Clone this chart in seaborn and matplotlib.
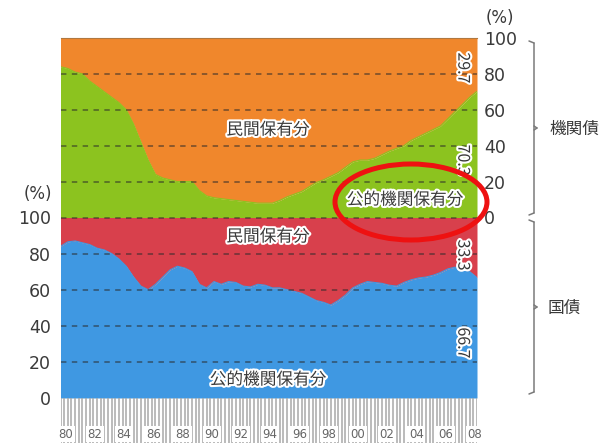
import numpy as np
import pandas as pd
import matplotlib
matplotlib.use("Agg")
import matplotlib.pyplot as plt
import matplotlib.patheffects as pe
from matplotlib.patches import Ellipse
import seaborn as sns

# ---------------- data (half-yearly) ----------------
periods = np.arange(1980.0, 2008.51, 0.5)

# 機関債: 公的機関保有分 (%)
agency_public = [84, 83, 81, 80, 76, 73, 70, 67, 64, 60,
                 52, 42, 32, 24, 22, 21, 20, 20, 20, 15,
                 12, 11, 10.5, 10, 9.5, 9, 8.5, 8, 8, 8,
                 9.5, 11.5, 13, 14.5, 17, 19.5, 21, 23, 25, 28,
                 31, 32, 32, 33, 35, 37, 38.5, 40, 43, 45,
                 47, 49, 51, 55, 59, 63, 67, 70.3]

# 国債: 公的機関保有分 (%)
jgb_public = [84, 86.5, 87, 86, 85, 83, 82, 80, 77, 73,
              67, 62, 60, 63, 67, 71, 73, 72, 70, 63,
              61, 64.5, 63, 64.5, 64, 62, 61.5, 63, 62.5, 61,
              61, 60, 59, 58, 56, 54, 53, 51.5, 54, 57,
              61, 63, 64.5, 64, 63.5, 62.5, 62, 64, 65.5, 66.5,
              67, 68, 69.5, 71.5, 72.5, 71.5, 70, 66.7]

year_labels = ["80", "82", "84", "86", "88", "90", "92", "94",
               "96", "98", "00", "02", "04", "06", "08"]
label_years = list(range(1980, 2009, 2))
yticks = [0, 20, 40, 60, 80, 100]

df = pd.DataFrame({"period": periods,
                   "agency_public": agency_public,
                   "jgb_public": jgb_public})

# ---------------- style ----------------
sns.set_theme(style="white")
CJK = ["Noto Sans CJK JP", "DejaVu Sans"]
plt.rcParams["font.family"] = ["DejaVu Sans", "Noto Sans CJK JP"]

ORANGE = "#f0872c"
GREEN = "#8cc31f"
RED = "#d8404c"
BLUE = "#3f98e2"
TXT = "#3a3a3a"

W, H = 612, 443
fig = plt.figure(figsize=(W / 100, H / 100), dpi=100)

def fx(px):
    return px / W

def fy(py):
    return 1 - py / H

L, R = 60.5, 477
ax_top = fig.add_axes([fx(L), fy(217.5), fx(R - L), (217.5 - 38) / H])
ax_bot = fig.add_axes([fx(L), fy(398), fx(R - L), (398 - 217.5) / H])
ax_strip = fig.add_axes([fx(L), 0, fx(R - L), (H - 398) / H])

xmin, xmax = periods[0], periods[-1]

def panel(ax, lower, lower_c, upper_c):
    ax.fill_between(df["period"], 0, df[lower], color=lower_c, lw=0)
    ax.fill_between(df["period"], df[lower], 100, color=upper_c, lw=0)
    sns.lineplot(data=df, x="period", y=lower, ax=ax, color=lower_c, lw=0.8)
    ax.set_xlim(xmin, xmax)
    ax.set_ylim(0, 100)
    for v in [20, 40, 60, 80]:
        ax.axhline(v, color="#2a2a2a", alpha=0.55, lw=1.3,
                   linestyle=(0, (3, 3)), zorder=3)
    for s in ax.spines.values():
        s.set_visible(False)
    ax.set_xticks([])
    ax.set_xlabel("")
    ax.set_ylabel("")

panel(ax_top, "agency_public", GREEN, ORANGE)
panel(ax_bot, "jgb_public", BLUE, RED)
ax_bot.axhline(100, color="#2a2a2a", alpha=0.55, lw=1.3,
               linestyle=(0, (3, 3)), zorder=3, clip_on=False)

# y ticks
ax_top.yaxis.tick_right()
ax_top.set_yticks(yticks)
ax_top.set_yticklabels([str(v) for v in yticks])
ax_top.tick_params(axis="y", length=0, pad=5, labelsize=12.5, colors=TXT)
ax_bot.set_yticks(yticks)
ax_bot.set_yticklabels([str(v) for v in yticks])
ax_bot.tick_params(axis="y", length=0, pad=7, labelsize=12.5, colors=TXT)
ax_top.spines["top"].set_visible(True)
ax_top.spines["top"].set_color("#b07840")
ax_top.spines["top"].set_linewidth(0.8)

fig.text(fx(500), fy(18), "(%)", ha="center", va="center", fontsize=12, color=TXT)
fig.text(fx(38), fy(194), "(%)", ha="center", va="center", fontsize=12, color=TXT)

# in-chart labels
halo = [pe.withStroke(linewidth=3, foreground="white")]
def lab(ax, x, y, s, rot=0, size=12):
    ax.text(x, y, s, transform=ax.transAxes, ha="center", va="center",
            fontsize=size, color=TXT, rotation=rot, family=CJK,
            path_effects=halo, zorder=5)

lab(ax_top, 0.498, 0.487, "民間保有分")
lab(ax_top, 0.827, 0.097, "公的機関保有分")
lab(ax_top, 0.966, 0.833, "29.7", rot=-90, size=11.5)
lab(ax_top, 0.966, 0.32, "70.3", rot=-90, size=11.5)
lab(ax_bot, 0.498, 0.892, "民間保有分")
lab(ax_bot, 0.498, 0.10, "公的機関保有分")
lab(ax_bot, 0.966, 0.792, "33.3", rot=-90, size=11.5)
lab(ax_bot, 0.966, 0.305, "66.7", rot=-90, size=11.5)

# time strip with quarterly ticks
ax_strip.set_xlim(xmin, xmax)
ax_strip.set_ylim(0, 1)
ax_strip.axis("off")
quarters = np.arange(1980.0, 2008.51, 0.25)
ax_strip.vlines(quarters, 0.0, 1.0, color="#a8a8a8", lw=1.1)
for yr, s in zip(label_years, year_labels):
    ax_strip.text(yr + 0.35, 0.2, s, ha="center", va="center", fontsize=8.5,
                  color="#666666",
                  bbox=dict(facecolor="white", edgecolor="none", pad=1.2))

# braces on the right
def brace(y0, y1, x=534):
    c = "#7a7a7a"
    fig.add_artist(plt.Line2D([fx(x), fx(x)], [fy(y0), fy(y1)], color=c, lw=1.1))
    fig.add_artist(plt.Line2D([fx(x - 5), fx(x)], [fy(y0 - 2), fy(y0)], color=c, lw=1.1))
    fig.add_artist(plt.Line2D([fx(x - 5), fx(x)], [fy(y1 + 2), fy(y1)], color=c, lw=1.1))
    ym = (y0 + y1) / 2
    fig.add_artist(plt.Line2D([fx(x), fx(x + 3)], [fy(ym - 2), fy(ym)], color=c, lw=1.1))
    fig.add_artist(plt.Line2D([fx(x), fx(x + 3)], [fy(ym + 2), fy(ym)], color=c, lw=1.1))

brace(43, 213)
brace(222, 392)
fig.text(fx(574), fy(129), "機関債", ha="center", va="center", fontsize=12,
         color=TXT, family=CJK)
fig.text(fx(564), fy(308), "国債", ha="center", va="center", fontsize=12,
         color=TXT, family=CJK)

# red ellipse highlight
ell = Ellipse((fx(411), fy(202)), fx(152), 76 / H, transform=fig.transFigure,
              fill=False, edgecolor="#ee1111", lw=3.6, zorder=10)
fig.add_artist(ell)

fig.savefig("out.png", dpi=100)
